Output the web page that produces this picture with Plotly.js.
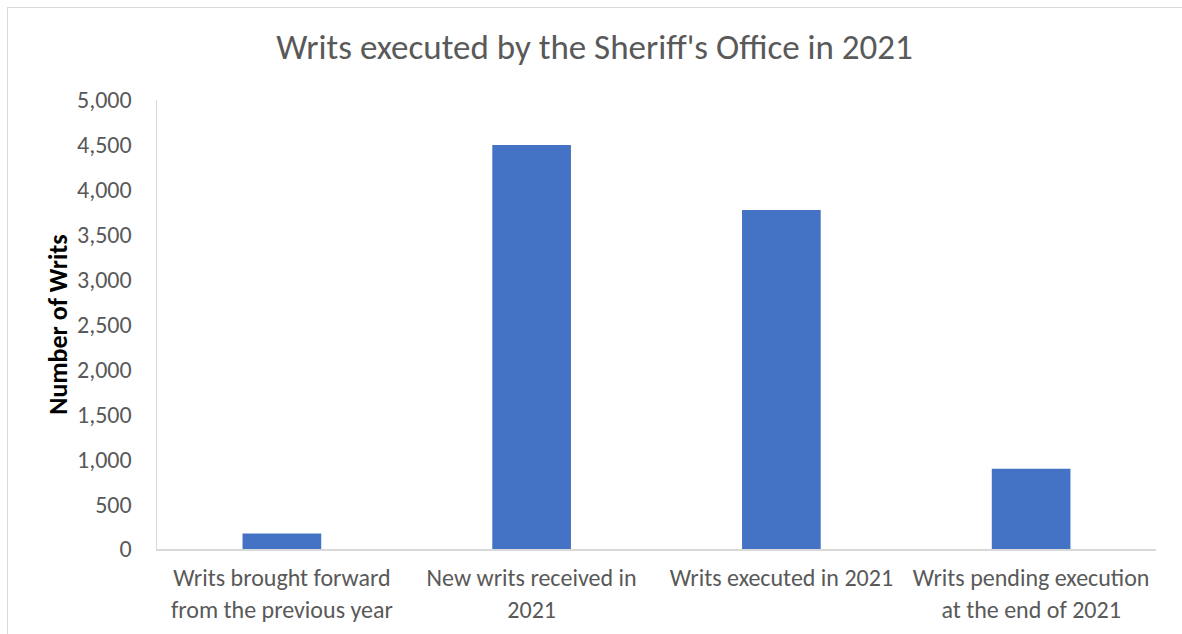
<!DOCTYPE html>
<html>
<head>
<meta charset="utf-8">
<script src="https://cdn.plot.ly/plotly-3.0.1.min.js"></script>
<style>
  html, body { margin: 0; padding: 0; background: #ffffff; }
  #chart { width: 1182px; height: 634px; position: absolute; left: 0; top: 0; }
  #frame { position: absolute; left: 7px; top: 7px; width: 1200px; height: 700px;
           border-left: 1px solid #d9d9d9; border-top: 1px solid #d9d9d9;
           pointer-events: none; z-index: 10; }
</style>
</head>
<body>
<div id="chart"></div>
<div id="frame"></div>
<script>
// Data
const categories = [
  "Writs brought forward<br>from the previous year",
  "New writs received in<br>2021",
  "Writs executed in 2021",
  "Writs pending execution<br>at the end of 2021"
];
const writCounts = [172, 4499, 3776, 895];
const yTickValues = [0, 500, 1000, 1500, 2000, 2500, 3000, 3500, 4000, 4500, 5000];

const FONT = "Carlito, Calibri, 'Liberation Sans Narrow', 'Open Sans', sans-serif";

const trace = {
  type: "bar",
  x: categories,
  y: writCounts,
  marker: { color: "#4472c4" },
  width: 0.315,
  hoverinfo: "x+y"
};

const layout = {
  width: 1182,
  height: 634,
  paper_bgcolor: "#ffffff",
  plot_bgcolor: "#ffffff",
  margin: { l: 157, r: 26, t: 100, b: 85 },
  showlegend: false,
  title: {
    text: "Writs executed by the Sheriff's Office in 2021",
    font: { family: FONT, size: 35, color: "#595959" },
    x: 0.503, xanchor: "center",
    y: 0.927, yanchor: "middle"
  },
  xaxis: {
    type: "category",
    showgrid: false,
    showline: true,
    linecolor: "#d9d9d9",
    linewidth: 1.5,
    ticks: "",
    ticklabelstandoff: 7,
    tickfont: { family: FONT, size: 24, color: "#595959" },
    fixedrange: true
  },
  yaxis: {
    range: [0, 5000],
    tickvals: yTickValues,
    tickformat: ",d",
    showgrid: false,
    zeroline: false,
    showline: true,
    linecolor: "#d9d9d9",
    linewidth: 1.5,
    ticks: "",
    ticklabelstandoff: 19,
    tickfont: { family: FONT, size: 24, color: "#595959" },
    title: {
      text: "<b>Number of Writs</b>",
      font: { family: FONT, size: 26, color: "#000000" },
      standoff: 2
    },
    fixedrange: true
  }
};

Plotly.newPlot("chart", [trace], layout, { displayModeBar: false, staticPlot: true });
</script>
</body>
</html>
